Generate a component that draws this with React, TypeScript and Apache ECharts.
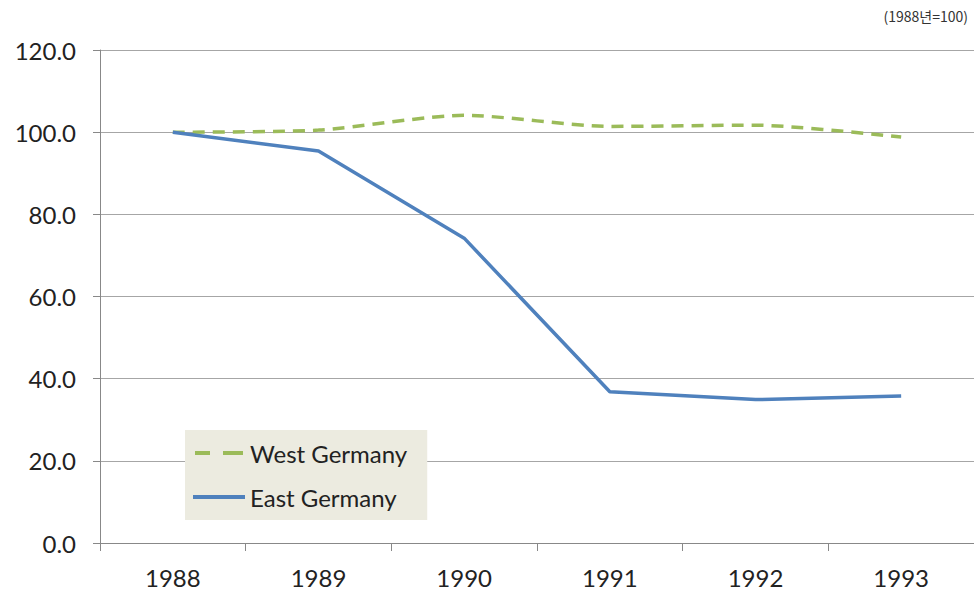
import React, { useEffect, useRef } from "react";
import * as echarts from "echarts";

const years = ["1988", "1989", "1990", "1991", "1992", "1993"];
const westGermany = [100.0, 100.5, 104.1, 101.4, 101.7, 98.8];
const eastGermany = [100.0, 95.4, 74.2, 36.8, 34.9, 35.8];
const yTicks = [0, 20, 40, 60, 80, 100, 120];
const note = "(1988년=100)";

export default function App() {
  const ref = useRef<HTMLDivElement>(null);
  useEffect(() => {
    if (!ref.current) return;
    const chart = echarts.init(ref.current, null, { renderer: "svg" });
    const font = "Lato, 'Open Sans', sans-serif";
    chart.setOption({
      animation: false,
      backgroundColor: "#ffffff",
      grid: { left: 100, top: 50, width: 878, height: 493, containLabel: false },
      graphic: [
        {
          type: "text",
          right: 6,
          top: 9,
          style: { text: note, fill: "#333", font: "14px 'Noto Sans CJK KR', sans-serif" },
        },
      ],
      legend: {
        orient: "vertical",
        left: 185,
        top: 430,
        padding: [11, 20, 11, 8],
        backgroundColor: "#ecebe0",
        itemWidth: 52,
        itemHeight: 4,
        itemGap: 20,
        textStyle: { fontFamily: font, fontSize: 24, color: "#222" },
        data: [
          { name: "West Germany", icon: "path://M0,0H15V4H0Z M28,0H48V4H28Z" },
          { name: "East Germany", icon: "path://M0,0H52V4H0Z" },
        ],
      },
      xAxis: {
        type: "category",
        data: years,
        boundaryGap: true,
        axisLine: { lineStyle: { color: "#888", width: 1 } },
        axisTick: { show: true, length: 8, lineStyle: { color: "#888" } },
        axisLabel: { fontFamily: font, fontSize: 24, color: "#222", margin: 22 },
      },
      yAxis: {
        type: "value",
        min: 0,
        max: 120,
        interval: 20,
        axisLine: { show: true, lineStyle: { color: "#888", width: 1 } },
        axisTick: { show: true, length: 7, lineStyle: { color: "#888" } },
        axisLabel: {
          fontFamily: font,
          fontSize: 24,
          color: "#222",
          margin: 24,
          formatter: (v: number) => (yTicks.includes(v) ? v.toFixed(1) : ""),
        },
        splitLine: { show: true, lineStyle: { color: "#a6a6a6", width: 1 } },
      },
      series: [
        {
          name: "West Germany",
          type: "line",
          data: westGermany,
          symbol: "none",
          smooth: 0.25,
          itemStyle: { color: "#9bbb59" },
          lineStyle: { color: "#9bbb59", width: 3.5, type: [12, 8] },
        },
        {
          name: "East Germany",
          type: "line",
          data: eastGermany,
          symbol: "none",
          itemStyle: { color: "#4f81bd" },
          lineStyle: { color: "#4f81bd", width: 3.5 },
        },
      ],
    });
    return () => chart.dispose();
  }, []);
  return (
    <div
      ref={ref}
      style={{ position: "fixed", left: 0, top: 0, width: 974, height: 594 }}
    />
  );
}
